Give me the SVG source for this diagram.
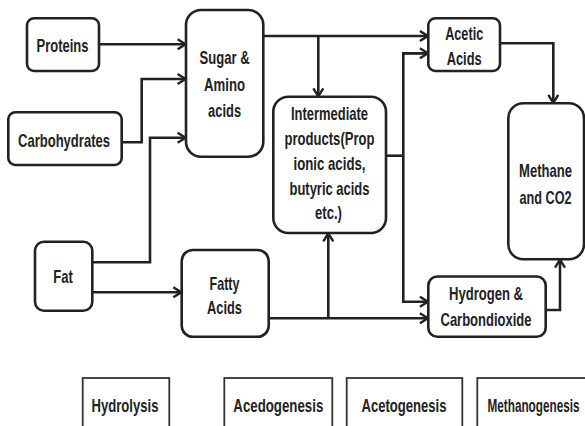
<svg xmlns="http://www.w3.org/2000/svg" width="585" height="426" viewBox="0 0 585 426">
<style>
.box{fill:#fff;stroke:#222;stroke-width:2.6}
.stage{fill:#fff;stroke:#333;stroke-width:1.8}
.t{font-family:"Liberation Sans",Arial,sans-serif;font-weight:bold;font-size:19px;fill:#222;text-anchor:middle}
.s{font-family:"Liberation Sans",Arial,sans-serif;font-weight:bold;font-size:18px;fill:#222;text-anchor:middle}
.c{fill:none;stroke:#222;stroke-width:2.6;stroke-linejoin:miter}
</style>
<defs>
<marker id="ah" viewBox="0 0 10 12" refX="9.4" refY="6" markerWidth="10" markerHeight="12" orient="auto" markerUnits="userSpaceOnUse">
<path d="M1,1 L9,6 L1,11" fill="none" stroke="#222" stroke-width="2.4"/>
</marker>
</defs>
<rect width="585" height="426" fill="#fff"/>
<g id="connectors">
<path class="c" d="M99,44.3 H186" marker-end="url(#ah)"/>
<path class="c" d="M121.7,142.3 H141.7 V79 H186" marker-end="url(#ah)"/>
<path class="c" d="M92.3,262.3 H150 V137.7 H186" marker-end="url(#ah)"/>
<path class="c" d="M92.3,292.3 H181.7" marker-end="url(#ah)"/>
<path class="c" d="M263.3,36 H428.3" marker-end="url(#ah)"/>
<path class="c" d="M318.3,36 V96.7" marker-end="url(#ah)"/>
<path class="c" d="M386,155.7 H403.3"/>
<path class="c" d="M428.3,53.3 H403.3 V301.7 H428.3" marker-end="url(#ah)"/>
<path class="c" d="M403.3,53.3 H428.3" marker-end="url(#ah)"/>
<path class="c" d="M268.7,318.3 H428.3" marker-end="url(#ah)"/>
<path class="c" d="M328.3,318.3 V233" marker-end="url(#ah)"/>
<path class="c" d="M500,43.3 H553.3 V103.3" marker-end="url(#ah)"/>
<path class="c" d="M545.7,310 H560 V259.3" marker-end="url(#ah)"/>
</g>
<g id="proteins">
<rect class="box" x="27" y="18.3" width="72" height="52.7" rx="7"/>
<text class="t" x="62.5" y="52" textLength="52" lengthAdjust="spacingAndGlyphs">Proteins</text>
</g>
<g id="carbohydrates">
<rect class="box" x="8.3" y="112.3" width="113.4" height="52.7" rx="7"/>
<text class="t" x="64" y="146.5" textLength="92" lengthAdjust="spacingAndGlyphs">Carbohydrates</text>
</g>
<g id="sugar">
<rect class="box" x="186" y="10" width="77.3" height="146.7" rx="15"/>
<text class="t" x="224.6" y="64" textLength="50" lengthAdjust="spacingAndGlyphs">Sugar &amp;</text>
<text class="t" x="224.6" y="90.5" textLength="41" lengthAdjust="spacingAndGlyphs">Amino</text>
<text class="t" x="224.6" y="116.5" textLength="33" lengthAdjust="spacingAndGlyphs">acids</text>
</g>
<g id="intermediate">
<rect class="box" x="273.3" y="96.7" width="112.7" height="136.3" rx="15"/>
<text class="t" x="329.5" y="120" textLength="77" lengthAdjust="spacingAndGlyphs">Intermediate</text>
<text class="t" x="329.5" y="145" textLength="90" lengthAdjust="spacingAndGlyphs">products(Prop</text>
<text class="t" x="329.5" y="170" textLength="72" lengthAdjust="spacingAndGlyphs">ionic acids,</text>
<text class="t" x="329.5" y="194.5" textLength="80" lengthAdjust="spacingAndGlyphs">butyric acids</text>
<text class="t" x="328.5" y="219" textLength="27" lengthAdjust="spacingAndGlyphs">etc.)</text>
</g>
<g id="acetic">
<rect class="box" x="428.3" y="18.3" width="71.7" height="52.7" rx="7"/>
<text class="t" x="464.2" y="40" textLength="38" lengthAdjust="spacingAndGlyphs">Acetic</text>
<text class="t" x="464.2" y="65" textLength="35" lengthAdjust="spacingAndGlyphs">Acids</text>
</g>
<g id="methane">
<rect class="box" x="508.3" y="103.3" width="75.7" height="156" rx="15"/>
<text class="t" x="545.5" y="176.7" textLength="53" lengthAdjust="spacingAndGlyphs">Methane</text>
<text class="t" x="545.5" y="203.5" textLength="52" lengthAdjust="spacingAndGlyphs">and CO2</text>
</g>
<g id="fat">
<rect class="box" x="35" y="241.7" width="57.3" height="69" rx="9"/>
<text class="t" x="63" y="283.3" textLength="19.5" lengthAdjust="spacingAndGlyphs">Fat</text>
</g>
<g id="fatty">
<rect class="box" x="181.7" y="250" width="87" height="86.7" rx="11"/>
<text class="t" x="224.5" y="289.5" textLength="30" lengthAdjust="spacingAndGlyphs">Fatty</text>
<text class="t" x="224.5" y="313.5" textLength="35" lengthAdjust="spacingAndGlyphs">Acids</text>
</g>
<g id="hydrogen">
<rect class="box" x="428.3" y="276.5" width="117.4" height="60.2" rx="9"/>
<text class="t" x="486" y="300" textLength="74" lengthAdjust="spacingAndGlyphs">Hydrogen &amp;</text>
<text class="t" x="486" y="326" textLength="91" lengthAdjust="spacingAndGlyphs">Carbondioxide</text>
</g>
<g id="hydrolysis">
<rect class="stage" x="82.7" y="378" width="86.6" height="60"/>
<text class="s" x="125" y="412" textLength="67" lengthAdjust="spacingAndGlyphs">Hydrolysis</text>
</g>
<g id="acedogenesis">
<rect class="stage" x="224.3" y="378" width="108" height="60"/>
<text class="s" x="278.3" y="412" textLength="90" lengthAdjust="spacingAndGlyphs">Acedogenesis</text>
</g>
<g id="acetogenesis">
<rect class="stage" x="346.7" y="378" width="115.6" height="60"/>
<text class="s" x="404" y="412" textLength="85" lengthAdjust="spacingAndGlyphs">Acetogenesis</text>
</g>
<g id="methanogenesis">
<rect class="stage" x="477.3" y="378" width="120" height="60"/>
<text class="s" x="533.5" y="412" textLength="92" lengthAdjust="spacingAndGlyphs">Methanogenesis</text>
</g>
</svg>
